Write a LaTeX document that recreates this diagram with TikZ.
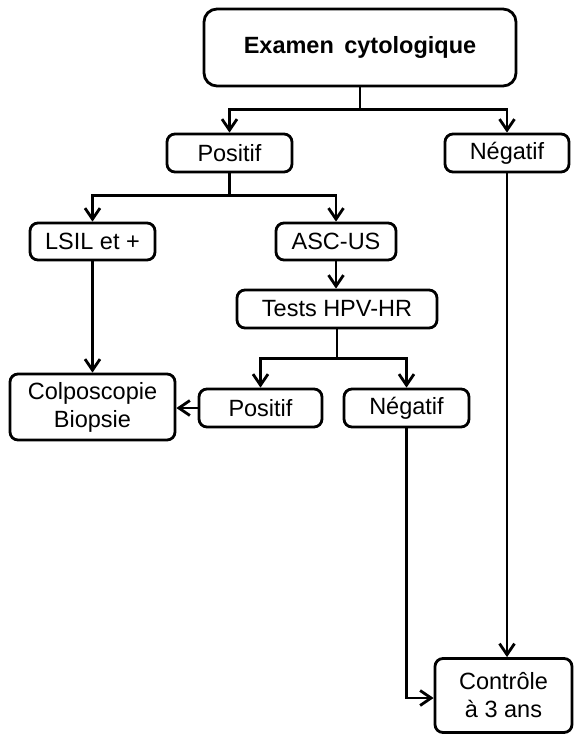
\documentclass[tikz,border=0pt]{standalone}
\usepackage{fontspec}
\setmainfont{Liberation Sans}
\usetikzlibrary{arrows.meta}
\begin{document}
\begin{tikzpicture}[x=1pt,y=-1pt,
  box/.style={draw, line width=2.8pt, rounded corners=8pt, inner sep=0pt, align=center,
    font=\fontsize{23.5}{28}\selectfont},
  conn/.style={line width=2.8pt},
  arr/.style={conn, -{Straight Barb[length=11pt,width=15pt]}}
]
\useasboundingbox (0,0) rectangle (577,736);

\node[box, rounded corners=13pt, minimum width=312pt, minimum height=77pt, font=\fontsize{23.5}{28}\selectfont\bfseries] (ex) at (360,47.5) {Examen\ \,cytologique};
\node[box, minimum width=125pt, minimum height=38pt] (pos) at (229.5,153) {Positif};
\node[box, minimum width=124pt, minimum height=38pt] (neg) at (507,153) {Négatif};
\node[box, minimum width=125pt, minimum height=37pt] (lsil) at (92.5,241.5) {LSIL et +};
\node[box, minimum width=120pt, minimum height=37pt] (asc) at (336,241.5) {ASC-US};
\node[box, minimum width=200pt, minimum height=38pt] (tests) at (337,309) {Tests HPV-HR};
\node[box, minimum width=165pt, minimum height=66pt] (colpo) at (92.5,407) {Colposcopie\\Biopsie};
\node[box, minimum width=123pt, minimum height=38pt] (pos2) at (260.5,408) {Positif};
\node[box, minimum width=125pt, minimum height=38pt] (neg2) at (406.5,408) {Négatif};
\node[box, minimum width=137pt, minimum height=74pt] (ctrl) at (503.5,695.5) {Contrôle\\à 3 ans};

% top split
\draw[conn] (ex.south) -- ++(0,22) coordinate (j1);
\draw[arr] (j1) -| (pos.north);
\draw[arr] (j1) -| (neg.north);

% positif split
\draw[conn] (pos.south) -- ++(0,22) coordinate (j2);
\draw[arr] (j2) -| (lsil.north);
\draw[arr] (j2) -| (asc.north);

\draw[arr] (asc.south) -- (asc.south |- tests.north);

% tests split
\draw[conn] (tests.south) -- ++(0,29) coordinate (j3);
\draw[arr] (j3) -| (pos2.north);
\draw[arr] (j3) -| (neg2.north);

\draw[arr] (lsil.south) -- (colpo.north);
\draw[arr] (pos2.west) -- (colpo.east |- pos2.west);

\draw[arr] (neg.south) -- (neg.south |- ctrl.north);
\coordinate (k1) at (neg2.south |- 0,698);
\draw[arr] (neg2.south) -- (k1) -- (ctrl.west |- k1);
\end{tikzpicture}
\end{document}
